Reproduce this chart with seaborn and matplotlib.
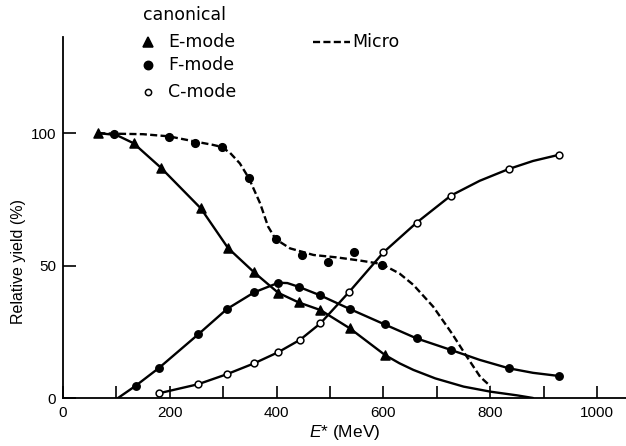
import matplotlib
matplotlib.use("Agg")
import matplotlib.pyplot as plt
from matplotlib import font_manager
from matplotlib.lines import Line2D
import pandas as pd
import seaborn as sns

# ---- measured yields (excitation energy in MeV, relative yield in %) ----
e_mode_x = [66, 132, 183, 258, 309, 358, 403, 441, 482, 537, 603]
e_mode_y = [100, 96.2, 87.0, 71.6, 56.6, 47.4, 39.7, 36.1, 33.2, 26.3, 16.2]

f_mode_x = [136, 180, 253, 307, 358, 403, 441, 481, 537, 602, 662, 727, 835, 929]
f_mode_y = [4.6, 11.4, 24.0, 33.6, 39.9, 43.5, 42.0, 38.8, 33.6, 27.8, 22.5, 18.1, 11.2, 8.3]

c_mode_x = [180, 253, 307, 358, 403, 444, 482, 536, 600, 662, 726, 835, 928]
c_mode_y = [1.8, 5.2, 9.0, 13.1, 17.3, 22.0, 28.2, 40.1, 55.0, 66.2, 76.4, 86.5, 91.8]

micro_x = [95, 198, 248, 297, 348, 398, 448, 497, 544, 597]
micro_y = [99.6, 98.4, 96.4, 94.9, 83.0, 60.0, 54.0, 51.5, 55.3, 50.2]

# ---- hand-drawn guide curves (nodes along each fitted line) ----
e_curve_x = [66, 100, 132, 183, 258, 309, 358, 403, 441, 482, 537, 603, 630, 656, 697, 750, 800, 850, 880]
e_curve_y = [100, 99.3, 96.2, 87.0, 71.6, 56.6, 47.4, 39.7, 36.1, 33.2, 26.3, 16.2, 13.1, 10.6, 7.4, 4.3, 2.4, 1.0, 0.0]

f_curve_x = [103, 136, 180, 253, 307, 358, 403, 420, 441, 481, 537, 602, 662, 727, 780, 835, 880, 929]
f_curve_y = [0.0, 4.6, 11.4, 24.0, 33.6, 39.9, 43.5, 43.4, 42.0, 38.8, 33.6, 27.8, 22.5, 18.1, 14.4, 11.2, 9.5, 8.3]

c_curve_x = [180, 253, 307, 358, 403, 444, 482, 536, 600, 662, 726, 780, 835, 880, 928]
c_curve_y = [1.8, 5.2, 9.0, 13.1, 17.3, 22.0, 28.2, 40.1, 55.0, 66.2, 76.4, 82.0, 86.5, 89.5, 91.8]

micro_curve_x = [66, 95, 150, 198, 248, 280, 297, 313, 331, 348, 369, 384, 398, 425, 469,
                 512, 556, 587, 600, 630, 656, 693, 728, 756, 781, 800]
micro_curve_y = [100, 99.8, 99.6, 98.8, 96.8, 95.6, 94.8, 92.5, 88.6, 83.0, 73.5, 64.7, 60.0, 56.5, 54.0,
                 53.1, 51.9, 50.9, 50.2, 47.0, 42.7, 34.5, 24.4, 15.6, 8.0, 4.5]

x_major = [0, 200, 400, 600, 800, 1000]
x_minor = [100, 300, 500, 700, 900]
y_major = [0, 50, 100]

sns.set_theme(style="ticks")
available = {f.name for f in font_manager.fontManager.ttflist}
narrow = "Liberation Sans Narrow" if "Liberation Sans Narrow" in available else "Liberation Sans"
plt.rcParams["font.family"] = ["DejaVu Sans"]
plt.rcParams["mathtext.fontset"] = "custom"
plt.rcParams["mathtext.it"] = f"{narrow}:italic"
plt.rcParams["mathtext.rm"] = narrow

W, H = 626, 446
fig = plt.figure(figsize=(W / 100, H / 100), dpi=100)
ax = fig.add_axes([63 / W, 48 / H, 563 / W, 361 / H])

LW = 1.7
DASH = (0, (3.0, 1.4))
line_kw = dict(color="black", linewidth=LW, sort=False, estimator=None, ax=ax, legend=False)

def curve(xs, ys, **kw):
    df = pd.DataFrame({"E": xs, "Y": ys})
    sns.lineplot(data=df, x="E", y="Y", **line_kw, **kw)

curve(e_curve_x, e_curve_y)
curve(f_curve_x, f_curve_y)
curve(c_curve_x, c_curve_y)
curve(micro_curve_x, micro_curve_y, dashes=False, linestyle=DASH)

def points(xs, ys, marker, face, size):
    df = pd.DataFrame({"E": xs, "Y": ys})
    sns.scatterplot(data=df, x="E", y="Y", marker=marker, s=size, color=face,
                    edgecolor="black", linewidth=1.1, ax=ax, zorder=5, legend=False)

points(e_mode_x, e_mode_y, "^", "black", 42)
points(f_mode_x, f_mode_y, "o", "black", 28)
points(micro_x, micro_y, "o", "black", 30)
points(c_mode_x, c_mode_y, "o", "white", 24)

ax.set_xlim(0, 1054)
ax.set_ylim(0, 136.3)
ax.set_xticks(x_major)
ax.set_xticks(x_minor, minor=True)
ax.set_yticks(y_major)
ax.set_xticklabels([str(v) for v in x_major])
ax.set_yticklabels([str(v) for v in y_major])

for side in ("top", "right"):
    ax.spines[side].set_visible(False)
for side in ("left", "bottom"):
    ax.spines[side].set_linewidth(1.3)
    ax.spines[side].set_color("black")

ax.tick_params(axis="both", which="both", direction="in", length=9, width=1.2,
               color="black", labelcolor="black")
ax.tick_params(axis="x", pad=6)
ax.tick_params(axis="y", pad=5)
for lab in ax.get_xticklabels() + ax.get_yticklabels():
    lab.set_fontfamily(narrow)
    lab.set_fontsize(11)

ax.set_xlabel(r"$E$* (MeV)", fontfamily=narrow, fontsize=12.5, color="black")
ax.set_ylabel("Relative yield (%)", fontfamily=narrow, fontsize=11.5, color="black")
ax.xaxis.set_label_coords(0.5, -0.07)
ax.yaxis.set_label_coords(-0.066, 0.378)

# key for the series
def fx(px):
    return px / W

def fy(py):
    return 1 - py / H

key_font = dict(fontfamily="DejaVu Sans", fontsize=12.5, color="black", va="center", ha="left")
fig.text(fx(143), fy(15), "canonical", **key_font)
rows = [("E-mode", "^", "black", 7, 42), ("F-mode", "o", "black", 6, 65), ("C-mode", "o", "white", 4.5, 92)]
for label, mk, face, ms, py in rows:
    fig.add_artist(Line2D([fx(148)], [fy(py)], marker=mk, markersize=ms, markerfacecolor=face,
                          markeredgecolor="black", markeredgewidth=1.1, linestyle="none",
                          transform=fig.transFigure))
    fig.text(fx(168), fy(py), label, **key_font)

fig.add_artist(Line2D([fx(313), fx(350)], [fy(42), fy(42)], color="black", linewidth=LW,
                      linestyle=DASH, transform=fig.transFigure))
fig.text(fx(352), fy(42), "Micro", **key_font)

fig.savefig("out.png", dpi=100)
